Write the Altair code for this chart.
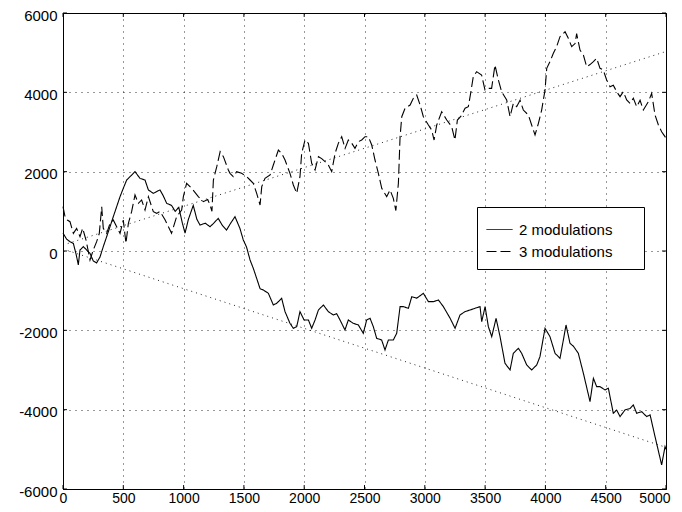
import altair as alt
import pandas as pd

# ---------------- data ----------------
x_ticks = [0, 500, 1000, 1500, 2000, 2500, 3000, 3500, 4000, 4500, 5000]
y_ticks = [-6000, -4000, -2000, 0, 2000, 4000, 6000]
series_labels = ["2 modulations", "3 modulations"]

solid_x = [0, 30, 58, 86, 110, 127, 141, 169, 196, 224, 251, 279, 307, 334, 362, 390, 417, 445,
           473, 500, 528, 556, 597, 638, 680, 708, 749, 804, 830, 860, 900, 930, 960, 990, 1012,
           1040, 1080, 1110, 1136, 1180, 1219, 1250, 1287, 1320, 1356, 1390, 1426, 1467, 1495,
           1522, 1551, 1578, 1592, 1634, 1661, 1703, 1744, 1772, 1813, 1841, 1882, 1910, 1938,
           1965, 1999, 2035, 2062, 2090, 2118, 2159, 2200, 2242, 2269, 2297, 2338, 2366, 2407,
           2449, 2490, 2518, 2546, 2573, 2601, 2642, 2670, 2698, 2739, 2767, 2795, 2822, 2864,
           2892, 2933, 2988, 3030, 3071, 3113, 3154, 3210, 3251, 3292, 3333, 3375, 3416, 3458,
           3472, 3500, 3527, 3555, 3591, 3624, 3665, 3707, 3734, 3776, 3803, 3845, 3886, 3928,
           3955, 3997, 4038, 4080, 4121, 4149, 4171, 4204, 4232, 4273, 4315, 4370, 4398, 4425,
           4453, 4494, 4522, 4563, 4591, 4619, 4660, 4702, 4729, 4757, 4798, 4840, 4868, 4909,
           4964, 4992, 5000]
solid_y = [450, 300, 235, 190, -100, -350, 25, 110, 25, -60, -250, -300, -150, 110, 360, 613, 865,
           1117, 1370, 1580, 1790, 1874, 2000, 1832, 1790, 1538, 1454, 1540, 1400, 1200, 1150,
           1000, 1100, 700, 450, 800, 1150, 800, 655, 700, 613, 700, 823, 650, 529, 700, 865, 571,
           277, 100, -227, -437, -563, -950, -983, -1067, -1361, -1319, -1193, -1529, -1823,
           -1949, -1907, -1529, -1739, -1739, -1949, -1739, -1487, -1361, -1529, -1613, -1580,
           -1739, -1991, -1739, -1823, -1865, -2075, -1739, -1697, -1907, -2201, -2243, -2495,
           -2243, -2243, -2075, -1403, -1403, -1445, -1151, -1190, -1067, -1277, -1277, -1235,
           -1403, -1697, -1949, -1613, -1529, -1487, -1445, -1403, -1781, -1403, -1907, -2159,
           -1697, -2159, -2831, -2999, -2579, -2453, -2579, -2873, -2999, -2873, -2663, -1949,
           -2159, -2579, -2705, -2243, -1865, -2327, -2400, -2579, -3083, -3797, -3209, -3419,
           -3419, -3503, -3460, -4091, -4010, -4175, -4007, -3970, -3881, -4091, -4050, -4175,
           -4130, -4679, -5393, -4931, -5000]

dashed_x = [0, 17, 36, 58, 86, 113, 141, 163, 191, 224, 251, 279, 301, 321, 334, 362, 390, 417,
            445, 473, 500, 522, 542, 569, 597, 625, 652, 680, 708, 749, 777, 804, 846, 900, 942,
            984, 998, 1025, 1067, 1122, 1164, 1200, 1219, 1235, 1247, 1275, 1303, 1330, 1371,
            1385, 1412, 1440, 1481, 1523, 1551, 1578, 1606, 1634, 1648, 1675, 1717, 1744, 1786,
            1813, 1841, 1882, 1910, 1938, 1965, 1979, 2007, 2035, 2062, 2090, 2118, 2145, 2173,
            2200, 2228, 2256, 2283, 2311, 2339, 2366, 2394, 2421, 2449, 2477, 2504, 2532, 2560,
            2587, 2615, 2643, 2684, 2712, 2739, 2760, 2781, 2795, 2809, 2836, 2878, 2905, 2933,
            2961, 2988, 3030, 3057, 3077, 3099, 3140, 3182, 3223, 3250, 3270, 3300, 3334, 3361,
            3380, 3402, 3430, 3471, 3499, 3527, 3554, 3582, 3610, 3637, 3679, 3707, 3734, 3762,
            3790, 3817, 3859, 3886, 3914, 3942, 3969, 3997, 4011, 4038, 4066, 4093, 4121, 4163,
            4190, 4218, 4246, 4259, 4287, 4315, 4342, 4370, 4398, 4425, 4453, 4480, 4508, 4536,
            4563, 4591, 4619, 4646, 4674, 4702, 4729, 4757, 4785, 4812, 4854, 4881, 4909, 4937,
            4964, 4992, 5000]
dashed_y = [1117, 865, 781, 739, 445, 571, 361, 571, 277, -227, 25, 235, 445, 1117, 571, 445, 697,
            781, 613, 445, 781, 193, 697, 991, 1412, 1201, 1286, 1033, 1370, 991, 949, 1000, 790,
            445, 865, 1033, 1370, 1706, 1580, 1370, 1244, 1300, 1160, 1000, 1790, 2126, 2504,
            2378, 2042, 1958, 1874, 2000, 1958, 1874, 1790, 1706, 1454, 1160, 1622, 1832, 1916,
            2168, 2546, 2462, 2294, 1958, 1664, 1454, 1874, 2462, 2798, 2714, 2210, 2042, 2378,
            2330, 2252, 2168, 2000, 2462, 2714, 2882, 2588, 2798, 2720, 2588, 2756, 2800, 2882,
            2882, 2672, 2294, 1958, 1580, 1370, 1538, 1328, 1020, 1706, 2882, 3386, 3596, 3680,
            3848, 3932, 3680, 3386, 3176, 3050, 2798, 3176, 3512, 3302, 3134, 2800, 3300, 3400,
            3600, 3638, 3974, 4395, 4521, 4437, 4059, 4101, 4101, 4689, 4311, 4017, 3807, 3386,
            3722, 3638, 3800, 3554, 3428, 3176, 2924, 3218, 3554, 4059, 4605, 4773, 4983, 5151,
            5403, 5529, 5361, 5151, 5230, 5479, 5067, 4941, 4647, 4700, 4773, 4857, 4605, 4563,
            4311, 4143, 4180, 4017, 3891, 4017, 3807, 3722, 3850, 3638, 3800, 3554, 3764, 3974,
            3428, 3176, 3008, 2882, 2950]

trend_up_x = [0, 5000]
trend_up_y = [150, 5030]
trend_dn_x = [0, 5000]
trend_dn_y = [50, -4950]

# ---------------- tables ----------------
curves = pd.concat([
    pd.DataFrame({"x": solid_x, "y": solid_y, "series": series_labels[0],
                  "i": range(len(solid_x))}),
    pd.DataFrame({"x": dashed_x, "y": dashed_y, "series": series_labels[1],
                  "i": range(len(dashed_x))}),
], ignore_index=True)

trends = pd.concat([
    pd.DataFrame({"x": trend_up_x, "y": trend_up_y, "line": "up"}),
    pd.DataFrame({"x": trend_dn_x, "y": trend_dn_y, "line": "down"}),
], ignore_index=True)

TX = 33   # inward tick length in x units (~4 px)
TY = 100  # inward tick length in y units (~4 px)
ticks_x = pd.concat([
    pd.DataFrame({"x": x_ticks, "y": 6000, "y2": 6000 - TY}),
    pd.DataFrame({"x": x_ticks, "y": -6000, "y2": -6000 + TY}),
], ignore_index=True)
ticks_y = pd.concat([
    pd.DataFrame({"y": y_ticks, "x": 0, "x2": TX}),
    pd.DataFrame({"y": y_ticks, "x": 5000, "x2": 5000 - TX}),
], ignore_index=True)

FONT = "Liberation Sans"
xscale = alt.Scale(domain=[0, 5000], nice=False, zero=False)
yscale = alt.Scale(domain=[-6000, 6000], nice=False, zero=False)

xaxis = alt.Axis(values=x_ticks, title=None, labelExpr="datum.value + ''",
                 grid=True, gridColor="black", gridDash=[1, 5], gridOpacity=0.8,
                 gridWidth=1, tickSize=0, labelPadding=2, labelFontSize=14,
                 labelFont=FONT, labelColor="black", domainColor="black",
                 labelFlush=True, labelFlushOffset=4)
yaxis = alt.Axis(values=y_ticks, title=None, labelExpr="datum.value + ''",
                 grid=True, gridColor="black", gridDash=[1, 5], gridOpacity=0.8,
                 gridWidth=1, tickSize=0, labelPadding=6, labelFontSize=15,
                 labelOffset=2,
                 labelFont=FONT, labelColor="black", domainColor="black")

trend_layer = alt.Chart(trends).mark_line(
    color="black", strokeWidth=1, strokeDash=[1, 4], opacity=0.85
).encode(
    x=alt.X("x:Q", scale=xscale, axis=xaxis),
    y=alt.Y("y:Q", scale=yscale, axis=yaxis),
    detail="line:N",
)

pad_blank = "\u2800" * 2
curve_layer = alt.Chart(curves).mark_line(color="black", strokeWidth=1.1).encode(
    x=alt.X("x:Q", scale=xscale),
    y=alt.Y("y:Q", scale=yscale),
    strokeDash=alt.StrokeDash(
        "series:N",
        scale=alt.Scale(domain=series_labels, range=[[1, 0], [10, 4]]),
        legend=alt.Legend(
            orient="none", legendX=414, legendY=194, title=None,
            strokeColor="black", fillColor="white", padding=9,
            symbolType="stroke", symbolSize=676, symbolStrokeWidth=1,
            symbolStrokeColor="black", labelFontSize=15, labelFont=FONT,
            labelColor="black", labelOffset=6, rowPadding=-4,
            labelExpr="datum.label + '" + pad_blank + "'",
        ),
    ),
    order="i:Q",
)

tick_x_layer = alt.Chart(ticks_x).mark_rule(color="black", strokeWidth=1).encode(
    x=alt.X("x:Q", scale=xscale), y=alt.Y("y:Q", scale=yscale), y2="y2:Q")
tick_y_layer = alt.Chart(ticks_y).mark_rule(color="black", strokeWidth=1).encode(
    y=alt.Y("y:Q", scale=yscale), x=alt.X("x:Q", scale=xscale), x2="x2:Q")

chart = alt.layer(trend_layer, curve_layer, tick_x_layer, tick_y_layer).properties(
    width=603, height=476,
    autosize=alt.AutoSizeParams(type="none"),
    padding={"left": 55, "top": 5, "right": 8, "bottom": 15},
    background="white",
).configure_view(stroke="black", strokeWidth=1)

chart.save("out.html", embed_options={"renderer": "svg", "actions": False})
